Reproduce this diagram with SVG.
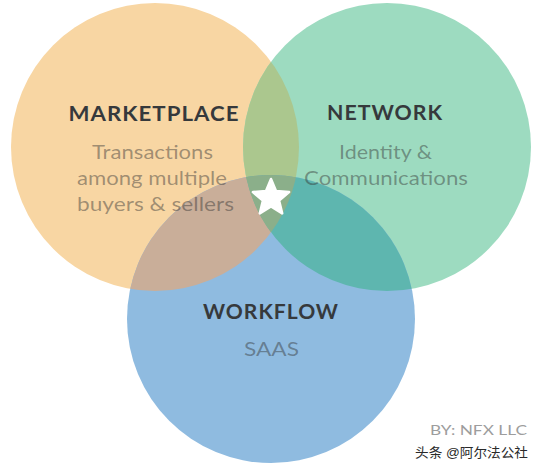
<svg xmlns="http://www.w3.org/2000/svg" width="541" height="469" viewBox="0 0 541 469">
  <style>
    .title { font-family: Lato, "Open Sans", "Liberation Sans", sans-serif; font-weight: 700; font-size: 21.5px; fill: #36393c; text-anchor: middle; letter-spacing: 1px; }
    .sub { font-family: Lato, "Open Sans", "Liberation Sans", sans-serif; font-weight: 400; font-size: 20px; fill: #333333; fill-opacity: 0.45; text-anchor: middle; }
    .credit { font-family: Lato, "Liberation Sans", sans-serif; font-size: 13px; fill: #9d9d9d; }
    .wm { font-family: "Liberation Sans", "Noto Sans CJK SC", sans-serif; font-size: 13px; fill: #2a2a2a; }
  </style>
  <defs>
    <circle id="circO" cx="155" cy="147" r="144"/>
    <circle id="circG" cx="387" cy="147" r="144"/>
    <circle id="circB" cx="271" cy="319" r="144"/>
    <clipPath id="clipO"><use href="#circO"/></clipPath>
    <clipPath id="clipG"><use href="#circG"/></clipPath>
    <clipPath id="clipOG" clip-path="url(#clipO)"><use href="#circG"/></clipPath>
  </defs>
  <rect width="541" height="469" fill="#ffffff"/>

  <g id="circles">
    <use href="#circO" fill="#F8D6A3"/>
    <use href="#circG" fill="#9DDBC0"/>
    <use href="#circB" fill="#8FBBE0"/>
  </g>
  <g id="overlaps">
    <use href="#circG" fill="#ABC78E" clip-path="url(#clipO)"/>
    <use href="#circB" fill="#C9AE99" clip-path="url(#clipO)"/>
    <use href="#circB" fill="#5EB6AF" clip-path="url(#clipG)"/>
    <use href="#circB" fill="#8BAF8A" clip-path="url(#clipOG)"/>
  </g>

  <g id="marketplace">
    <text class="title" x="154" y="120.5" textLength="171" lengthAdjust="spacingAndGlyphs">MARKETPLACE</text>
    <text class="sub" x="152.5" y="158.5" textLength="121" lengthAdjust="spacingAndGlyphs">Transactions</text>
    <text class="sub" x="152" y="184.5" textLength="150" lengthAdjust="spacingAndGlyphs">among multiple</text>
    <text class="sub" x="155.5" y="210.5" textLength="157" lengthAdjust="spacingAndGlyphs">buyers &amp; sellers</text>
  </g>

  <g id="network">
    <text class="title" x="385" y="120" textLength="116" lengthAdjust="spacingAndGlyphs">NETWORK</text>
    <text class="sub" x="385.5" y="158.5" textLength="93" lengthAdjust="spacingAndGlyphs">Identity &amp;</text>
    <text class="sub" x="386" y="185" textLength="164" lengthAdjust="spacingAndGlyphs">Communications</text>
  </g>

  <g id="workflow">
    <text class="title" x="271" y="319" textLength="136" lengthAdjust="spacingAndGlyphs">WORKFLOW</text>
    <text class="sub" x="271.5" y="356" textLength="55" lengthAdjust="spacingAndGlyphs">SAAS</text>
  </g>

  <g id="star">
    <path d="M271,179 L276,191.1 L289.1,192.1 L279.1,200.6 L282.2,213.4 L271,206.5 L259.8,213.4 L262.9,200.6 L252.9,192.1 L266,191.1 Z" fill="#ffffff" stroke="#ffffff" stroke-width="2.5" stroke-linejoin="round"/>
  </g>

  <g id="credits">
    <text class="credit" x="430" y="434.5" textLength="97" lengthAdjust="spacingAndGlyphs">BY: NFX LLC</text>
    <text class="wm" x="415" y="456.5" textLength="113" lengthAdjust="spacingAndGlyphs">头条 @阿尔法公社</text>
  </g>
</svg>
